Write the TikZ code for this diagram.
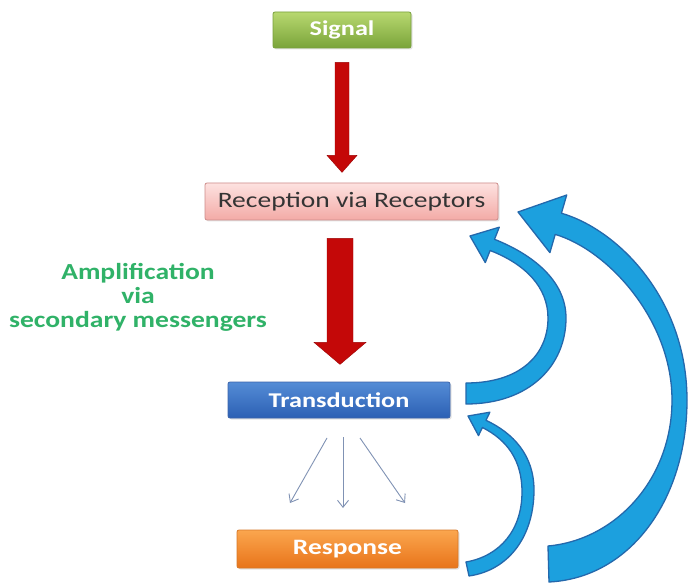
\documentclass[tikz,border=0pt]{standalone}
\usepackage{fontspec}
\usepackage{graphicx}
\setmainfont{Carlito}
\usetikzlibrary{calc,shadows,arrows.meta}
\definecolor{sigtop}{RGB}{184,216,112}
\definecolor{sigbot}{RGB}{122,164,58}
\definecolor{sigdraw}{RGB}{120,160,60}
\definecolor{rectop}{RGB}{253,226,224}
\definecolor{recbot}{RGB}{243,170,166}
\definecolor{recdraw}{RGB}{205,140,138}
\definecolor{trtop}{RGB}{84,140,214}
\definecolor{trbot}{RGB}{44,96,180}
\definecolor{trdraw}{RGB}{60,100,170}
\definecolor{retop}{RGB}{251,166,78}
\definecolor{rebot}{RGB}{232,116,26}
\definecolor{redraw}{RGB}{215,120,40}
\definecolor{arrred}{RGB}{196,8,8}
\definecolor{arrblue}{RGB}{28,160,222}
\definecolor{arrblueline}{RGB}{36,104,172}
\definecolor{fangray}{RGB}{128,146,180}
\definecolor{ampgreen}{RGB}{48,178,104}
\definecolor{rectext}{RGB}{52,52,52}
\newcommand\fsz[1]{\fontsize{#1}{#1}\selectfont}
\newcommand\wide[1]{\scalebox{1.25}[1]{#1}}
\tikzset{
  box/.style={rounded corners=2pt, inner sep=0pt, line width=0.8pt,
    drop shadow={opacity=0.22,shadow xshift=1.5pt,shadow yshift=-1.5pt}},
  sigbox/.style={box, draw=sigdraw, top color=sigtop, bottom color=sigbot,
    minimum width=138pt, minimum height=36pt, text=white, font=\fsz{21}\bfseries},
  recbox/.style={box, draw=recdraw, top color=rectop, bottom color=recbot,
    minimum width=293pt, minimum height=37pt, text=rectext, font=\fsz{22}},
  trbox/.style={box, draw=trdraw, top color=trtop, bottom color=trbot,
    minimum width=222pt, minimum height=36pt, text=white, font=\fsz{21}\bfseries},
  rebox/.style={box, draw=redraw, top color=retop, bottom color=rebot,
    minimum width=221pt, minimum height=38pt, text=white, font=\fsz{22}\bfseries},
  redblock/.style={fill=arrred, draw=arrred!80!black, line width=0.4pt},
  bluearrow/.style={fill=arrblue, draw=arrblueline, line width=1.3pt, line join=round},
  fanline/.style={draw=fangray, line width=0.9pt, -{Straight Barb[length=7pt,width=11pt]}},
  amptext/.style={text=ampgreen, align=center, font=\fsz{23}\bfseries}
}
\begin{document}
\begin{tikzpicture}[x=1pt,y=-1pt]
\useasboundingbox (0,0) rectangle (689,583);
\fill[white] (0,0) rectangle (689,583);

% boxes
\node[sigbox] (sig) at (342,30) {\wide{Signal}};
\node[recbox] (rec) at (351.5,201.5) {\wide{Reception via Receptors}};
\node[trbox] (tr) at (339,400) {\wide{Transduction}};
\node[rebox] (re) at (347.5,549) {\wide{Response}};

% amplification label
\node[amptext] (amp) at (138,297) {\scalebox{1.2}[1]{Amplification}\\[1pt]
  \scalebox{1.2}[1]{via}\\[1pt] \scalebox{1.2}[1]{secondary messengers}};

% red block arrow 1: Signal -> Reception
\coordinate (a1) at ($(sig.south)+(0,14)$);
\draw[redblock] ($(a1)+(-7,0)$) -- ($(a1)+(-7,93)$) -- ($(a1)+(-15,93)$)
  -- ($(a1)+(0,110)$) -- ($(a1)+(15,93)$) -- ($(a1)+(7,93)$) -- ($(a1)+(7,0)$) -- cycle;

% red block arrow 2: Reception -> Transduction
\coordinate (a2) at ($(rec.south -| tr.north)+(1,18)$);
\draw[redblock] ($(a2)+(-13,0)$) -- ($(a2)+(-13,104)$) -- ($(a2)+(-26,104)$)
  -- ($(a2)+(0,126)$) -- ($(a2)+(26,104)$) -- ($(a2)+(13,104)$) -- ($(a2)+(13,0)$) -- cycle;

% fan arrows Transduction -> Response
\coordinate (f1) at (327,438);
\coordinate (f2) at (343,437);
\coordinate (f3) at (360,438);
\coordinate (g1) at (290,503);
\coordinate (g2) at (343,508);
\coordinate (g3) at (405,503);
\draw[fanline] (f1) -- (g1);
\draw[fanline] (f2) -- (g2);
\draw[fanline] (f3) -- (g3);

% large blue curved arrow: Response -> Reception
\draw[bluearrow] (548,546) .. controls (615,540) and (672,480) .. (672,400)
  .. controls (672,320) and (608,250) .. (555.2,234.4)
  -- (549.9,252.6) -- (518,212) -- (566.7,195) -- (561.4,213.2)
  .. controls (619,230) and (687,300) .. (687,400)
  .. controls (687,500) and (630,578) .. (549,582) -- cycle;

% medium blue curved arrow: Transduction -> Reception
\draw[bluearrow] (466,383) .. controls (520,383) and (548,355) .. (548,318)
  .. controls (548,287) and (525,264) .. (490.1,250.5)
  -- (485.3,262.6) -- (470,236) -- (499.3,227.2) -- (494.5,239.3)
  .. controls (531.7,254.1) and (566,280) .. (566,318)
  .. controls (566,365) and (530,404) .. (466,404) -- cycle;

% small blue curved arrow: Response -> Transduction
\draw[bluearrow] (466,562) .. controls (500,556) and (522,530) .. (522,492)
  .. controls (522,460) and (507,440) .. (482.4,427.5)
  -- (478.5,435.6) -- (468,416) -- (489.9,412.2) -- (486,420.3)
  .. controls (513,433) and (534,455) .. (534,490)
  .. controls (534,535) and (510,570) .. (469,576) -- cycle;
\end{tikzpicture}
\end{document}
